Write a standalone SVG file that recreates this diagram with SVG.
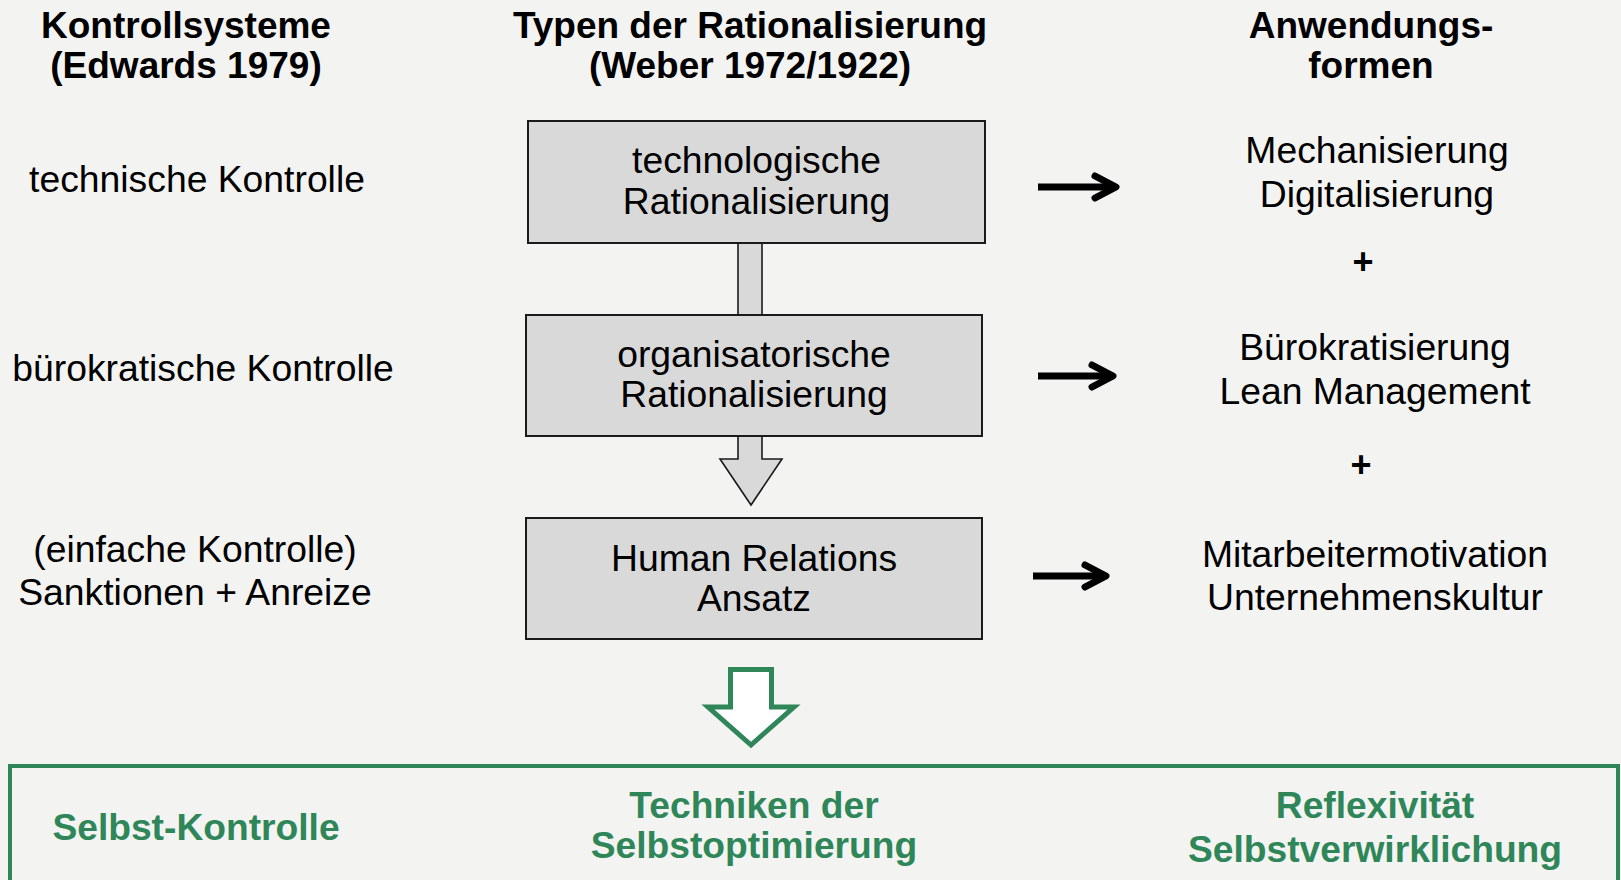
<svg xmlns="http://www.w3.org/2000/svg" width="1621" height="880" viewBox="0 0 1621 880">
  <defs>
    <style>
      .hdr { font-family: "Liberation Sans", Arial, sans-serif; font-size: 37px; font-weight: bold; fill: #000; text-anchor: middle; }
      .txt { font-family: "Liberation Sans", Arial, sans-serif; font-size: 37.3px; fill: #000; text-anchor: middle; }
      .plus { font-family: "Liberation Sans", Arial, sans-serif; font-size: 36px; font-weight: bold; fill: #000; text-anchor: middle; }
      .green { font-family: "Liberation Sans", Arial, sans-serif; font-size: 37.2px; font-weight: bold; fill: #2e8659; text-anchor: middle; }
      .box { fill: #d9d9d9; stroke: #1a1a1a; stroke-width: 2; }
      .block { fill: #d9d9d9; stroke: #1a1a1a; stroke-width: 1.6; stroke-linejoin: miter; }
      .shaft { stroke: #000; stroke-width: 7; fill: none; }
      .head { stroke: #000; stroke-width: 7; fill: none; stroke-linecap: round; stroke-linejoin: round; }
    </style>
  </defs>

  <rect width="1621" height="880" fill="#f3f3f1"/>

  <!-- column headers -->
  <g id="header-kontrollsysteme">
    <text class="hdr" x="186" y="38">Kontrollsysteme</text>
    <text class="hdr" x="186" y="78">(Edwards 1979)</text>
  </g>
  <g id="header-rationalisierung">
    <text class="hdr" x="750" y="38">Typen der Rationalisierung</text>
    <text class="hdr" x="750" y="78">(Weber 1972/1922)</text>
  </g>
  <g id="header-anwendung">
    <text class="hdr" x="1371" y="38">Anwendungs-</text>
    <text class="hdr" x="1371" y="78">formen</text>
  </g>

  <!-- left column: control systems -->
  <g id="kontrolle-technisch">
    <text class="txt" x="197" y="192">technische Kontrolle</text>
  </g>
  <g id="kontrolle-buerokratisch">
    <text class="txt" x="203" y="381">bürokratische Kontrolle</text>
  </g>
  <g id="kontrolle-einfach">
    <text class="txt" x="195" y="562">(einfache Kontrolle)</text>
    <text class="txt" x="195" y="605">Sanktionen + Anreize</text>
  </g>

  <!-- connectors -->
  <g id="connectors">
    <!-- grey bar linking the first two boxes -->
    <rect class="block" x="738" y="243" width="24" height="72"/>
    <!-- grey block arrow into the third box -->
    <polygon class="block" points="738,436 762,436 762,459 782,459 751,505 720,459 738,459"/>
    <!-- arrows to the application forms -->
    <line class="shaft" x1="1038" y1="187" x2="1113" y2="187"/>
    <polyline class="head" points="1095,176 1116,187 1095,198"/>
    <line class="shaft" x1="1038" y1="376" x2="1110" y2="376"/>
    <polyline class="head" points="1092,365 1113,376 1092,387"/>
    <line class="shaft" x1="1033" y1="576" x2="1103" y2="576"/>
    <polyline class="head" points="1085,565 1106,576 1085,587"/>
    <!-- green outline arrow down to self-control -->
    <polygon points="730.5,669.5 771.5,669.5 771.5,707 794,707 751,745 708,707 730.5,707" fill="#ffffff" stroke="#2e8659" stroke-width="5" stroke-linejoin="miter"/>
  </g>

  <!-- middle column: types of rationalisation -->
  <g id="box-technologisch">
    <rect class="box" x="528" y="121" width="457" height="122"/>
    <text class="txt" x="756.5" y="173">technologische</text>
    <text class="txt" x="756.5" y="214">Rationalisierung</text>
  </g>
  <g id="box-organisatorisch">
    <rect class="box" x="526" y="315" width="456" height="121"/>
    <text class="txt" x="754" y="367">organisatorische</text>
    <text class="txt" x="754" y="407">Rationalisierung</text>
  </g>
  <g id="box-human-relations">
    <rect class="box" x="526" y="518" width="456" height="121"/>
    <text class="txt" x="754" y="571">Human Relations</text>
    <text class="txt" x="754" y="611">Ansatz</text>
  </g>

  <!-- right column: application forms -->
  <g id="anwendung-technisch">
    <text class="txt" x="1377" y="163">Mechanisierung</text>
    <text class="txt" x="1377" y="207">Digitalisierung</text>
  </g>
  <g id="plus-1">
    <text class="plus" x="1363" y="274">+</text>
  </g>
  <g id="anwendung-organisatorisch">
    <text class="txt" x="1375" y="360">Bürokratisierung</text>
    <text class="txt" x="1375" y="404">Lean Management</text>
  </g>
  <g id="plus-2">
    <text class="plus" x="1361" y="477">+</text>
  </g>
  <g id="anwendung-human">
    <text class="txt" x="1375" y="567">Mitarbeitermotivation</text>
    <text class="txt" x="1375" y="610">Unternehmenskultur</text>
  </g>

  <!-- self-control panel -->
  <g id="selbstkontrolle">
    <rect x="10" y="766" width="1608" height="130" fill="none" stroke="#2e8659" stroke-width="4"/>
    <text class="green" x="196" y="840">Selbst-Kontrolle</text>
    <text class="green" x="754" y="818">Techniken der</text>
    <text class="green" x="754" y="858">Selbstoptimierung</text>
    <text class="green" x="1375" y="818">Reflexivität</text>
    <text class="green" x="1375" y="862">Selbstverwirklichung</text>
  </g>
</svg>
